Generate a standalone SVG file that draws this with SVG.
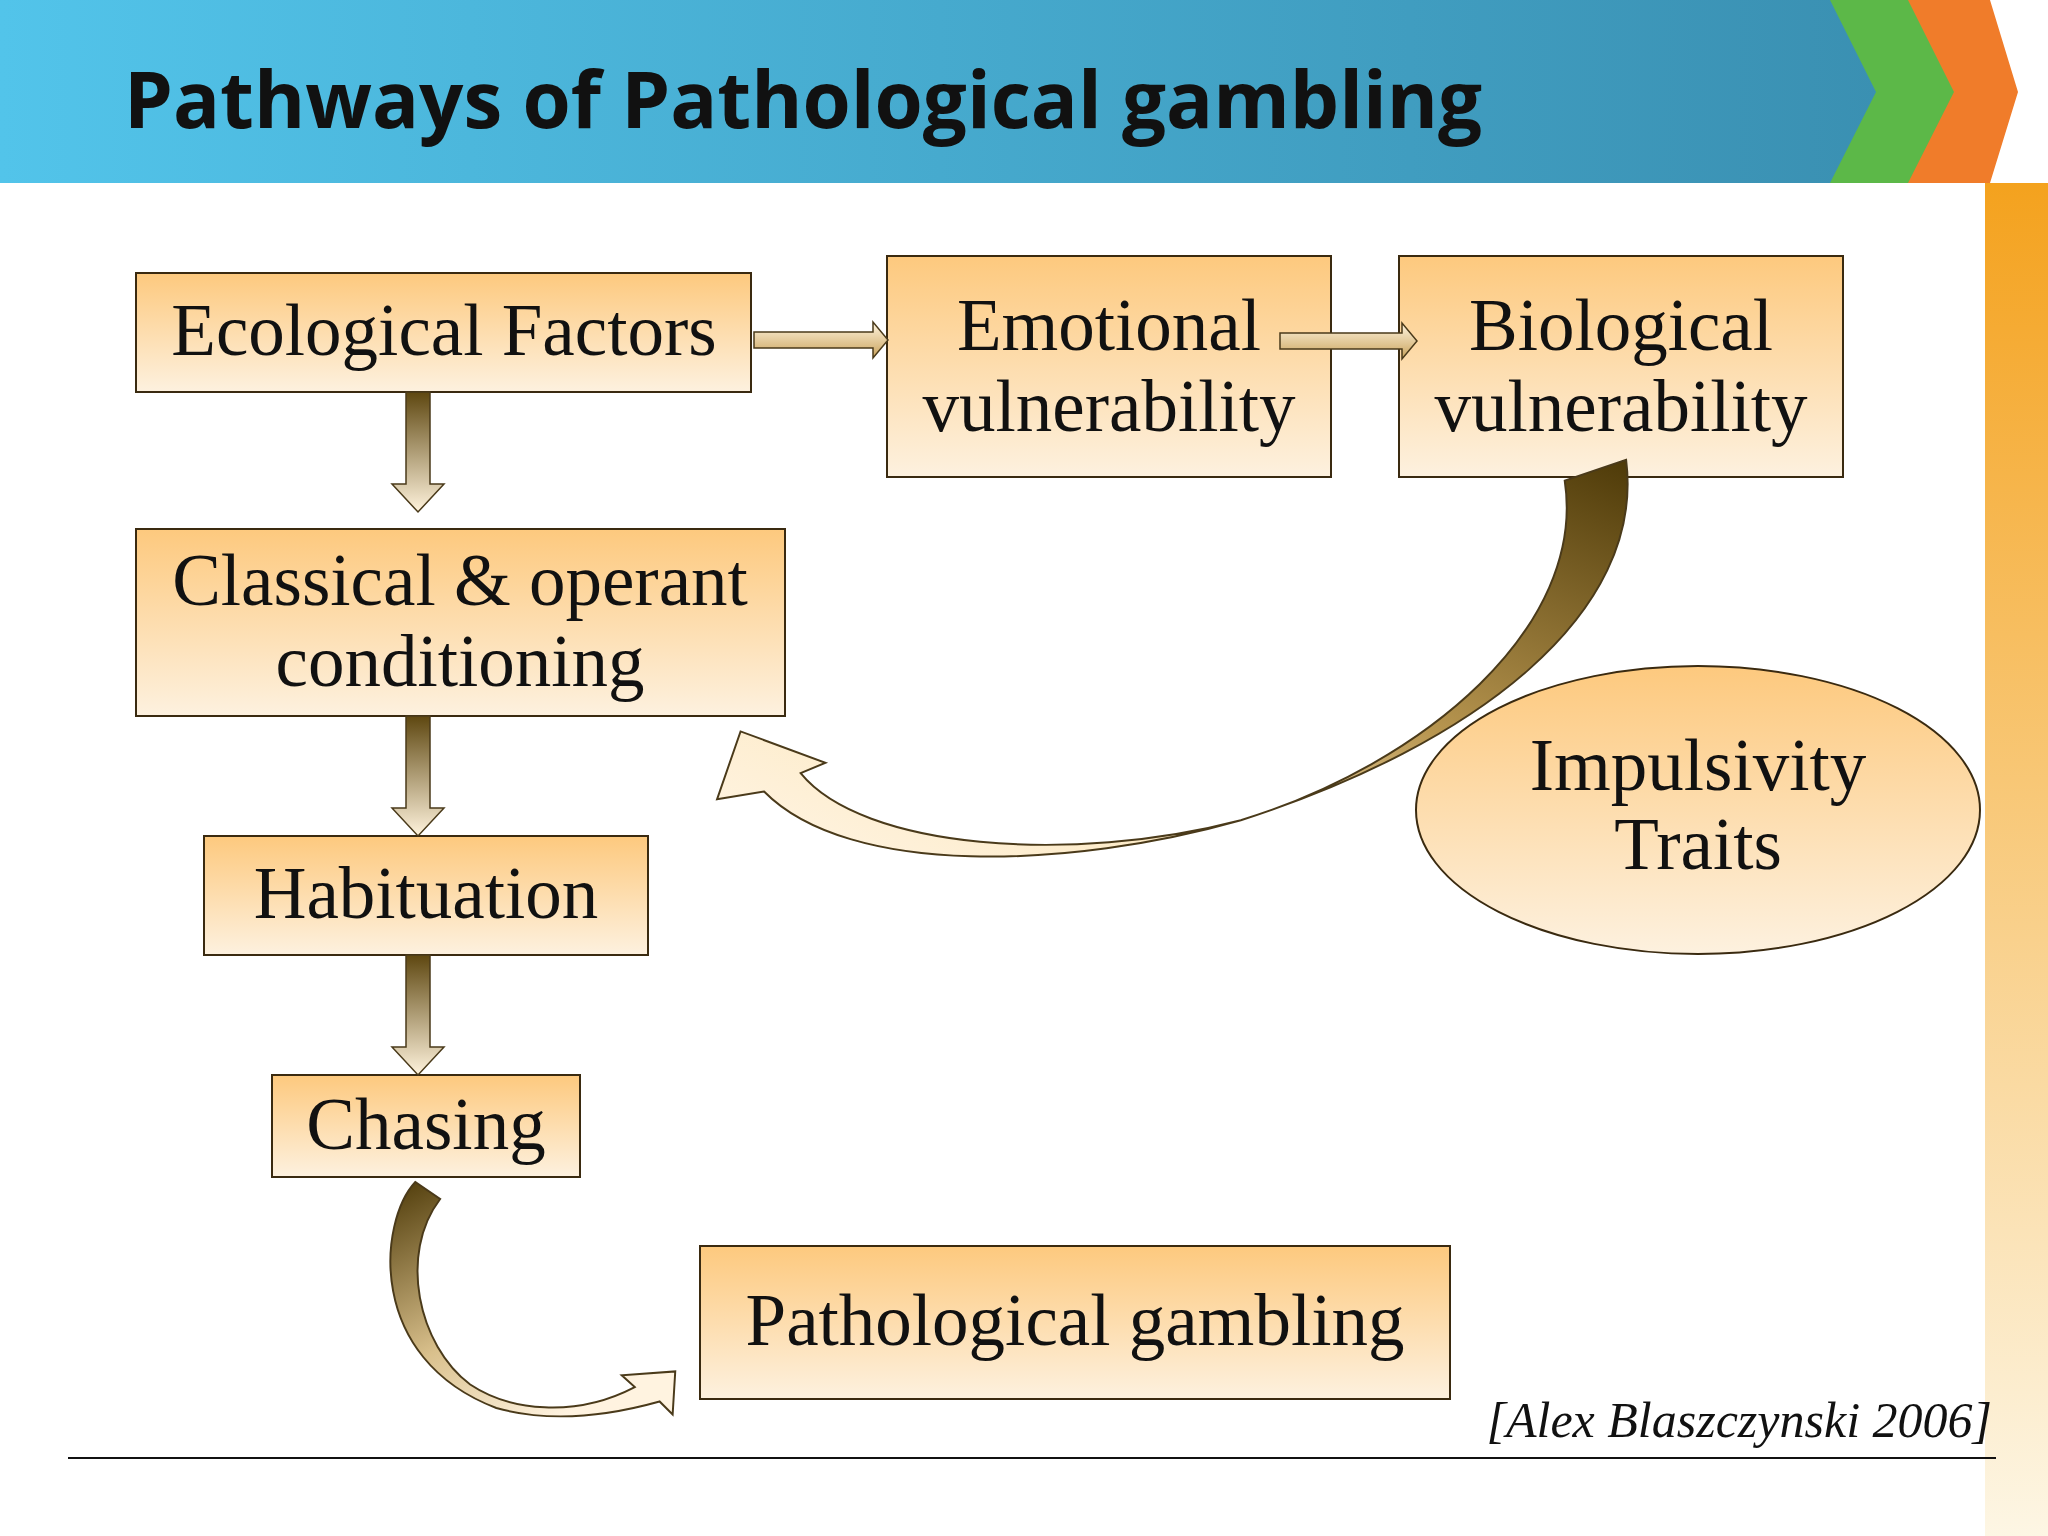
<svg xmlns="http://www.w3.org/2000/svg" width="2048" height="1536" viewBox="0 0 2048 1536">
<defs>
<linearGradient id="box" x1="0" y1="0" x2="0" y2="1"><stop offset="0" stop-color="#fdc97e"/><stop offset="1" stop-color="#fdf1df"/></linearGradient>
<linearGradient id="hdr" x1="0" y1="0" x2="1" y2="0"><stop offset="0" stop-color="#52c4ea"/><stop offset="1" stop-color="#3a90b2"/></linearGradient>
<linearGradient id="side" x1="0" y1="0" x2="0" y2="1"><stop offset="0" stop-color="#f4a21e"/><stop offset="1" stop-color="#fdf6e4"/></linearGradient>
<linearGradient id="harr" x1="0" y1="0" x2="0" y2="1"><stop offset="0" stop-color="#fff5e0"/><stop offset="1" stop-color="#c9a25a"/></linearGradient>
<linearGradient id="varr" x1="0" y1="0" x2="0" y2="1"><stop offset="0" stop-color="#5e4710"/><stop offset="1" stop-color="#fff3dc"/></linearGradient>
<linearGradient id="big" x1="1" y1="0" x2="0" y2="1"><stop offset="0" stop-color="#4e3a08"/><stop offset="0.45" stop-color="#b89650"/><stop offset="0.75" stop-color="#fdebc8"/><stop offset="1" stop-color="#fff5e6"/></linearGradient>
<linearGradient id="small" x1="0" y1="0" x2="0.6" y2="1"><stop offset="0" stop-color="#4e3a08"/><stop offset="0.6" stop-color="#d9c08c"/><stop offset="1" stop-color="#fff3e0"/></linearGradient>
<style>
.b{fill:url(#box);stroke:#3a2a10;stroke-width:2}
.t{font-family:"Liberation Serif","DejaVu Serif",serif;font-size:73px;fill:#111;text-anchor:middle}
.a{stroke:#4a3a1a;stroke-width:1.5}
</style>
</defs>
<rect width="2048" height="1536" fill="#fff"/>
<rect x="1985" y="183" width="63" height="1353" fill="url(#side)"/>
<polygon points="0,0 1835,0 1880,92 1835,183 0,183" fill="url(#hdr)"/>
<polygon points="1830,0 1912,0 1958,92 1912,183 1830,183 1876,92" fill="#5cb848"/>
<polygon points="1908,0 1990,0 2018,92 1990,183 1908,183 1954,92" fill="#f07c2a"/>
<text x="124" y="128" font-family="Open Sans,Lato,sans-serif" font-weight="bold" font-size="78" fill="#111">Pathways of Pathological gambling</text>

<g id="ecological"><rect class="b" x="136" y="273" width="615" height="119"/><text class="t" x="444" y="355">Ecological Factors</text></g>
<g id="emotional"><rect class="b" x="887" y="256" width="444" height="221"/><text class="t" x="1109" y="350">Emotional</text><text class="t" x="1109" y="431">vulnerability</text></g>
<g id="biological"><rect class="b" x="1399" y="256" width="444" height="221"/><text class="t" x="1621" y="350">Biological</text><text class="t" x="1621" y="431">vulnerability</text></g>
<g id="classical"><rect class="b" x="136" y="529" width="649" height="187"/><text class="t" x="460" y="605">Classical &amp; operant</text><text class="t" x="460" y="686">conditioning</text></g>
<g id="habituation"><rect class="b" x="204" y="836" width="444" height="119"/><text class="t" x="426" y="918">Habituation</text></g>
<g id="chasing"><rect class="b" x="272" y="1075" width="308" height="102"/><text class="t" x="426" y="1149">Chasing</text></g>
<g id="pathological"><rect class="b" x="700" y="1246" width="750" height="153"/><text class="t" x="1075" y="1345">Pathological gambling</text></g>
<g id="impulsivity"><ellipse class="b" cx="1698" cy="810" rx="282" ry="144"/><text class="t" x="1698" y="790">Impulsivity</text><text class="t" x="1698" y="869">Traits</text></g>

<g id="connectors">
<polygon class="a" fill="url(#harr)" points="754,332 873,332 873,322 888,340 873,358 873,348 754,348"/>
<polygon class="a" fill="url(#harr)" points="1280,333 1402,333 1402,323 1417,341 1402,359 1402,349 1280,349"/>
<polygon class="a" fill="url(#varr)" points="406,392 430,392 430,484 444,484 418,512 392,484 406,484"/>
<polygon class="a" fill="url(#varr)" points="406,716 430,716 430,808 444,808 418,836 392,808 406,808"/>
<polygon class="a" fill="url(#varr)" points="406,955 430,955 430,1047 444,1047 418,1075 392,1047 406,1047"/>
<g transform="scale(1.3061)">
<path class="a" fill="url(#big)" d="M1198,368 C1215,480 1090,585 950,628 C820,662 660,650 613,592 L632,584 L567,560 L549,612 L585,606 C650,672 820,665 950,628 C1130,570 1260,470 1245,352 Z"/>
<path class="a" fill="url(#small)" d="M318,905 C290,935 280,1040 380,1078 C430,1092 480,1080 505,1073 L515,1083 L517,1050 L476,1053 L486,1062 C440,1086 390,1080 360,1060 C320,1030 305,960 337,918 Z"/>
</g>
</g>

<line x1="68" y1="1458" x2="1996" y2="1458" stroke="#111" stroke-width="2"/>
<text x="1992" y="1437" font-family="Liberation Serif,serif" font-style="italic" font-size="50" text-anchor="end" fill="#111">[Alex Blaszczynski 2006]</text>
</svg>
